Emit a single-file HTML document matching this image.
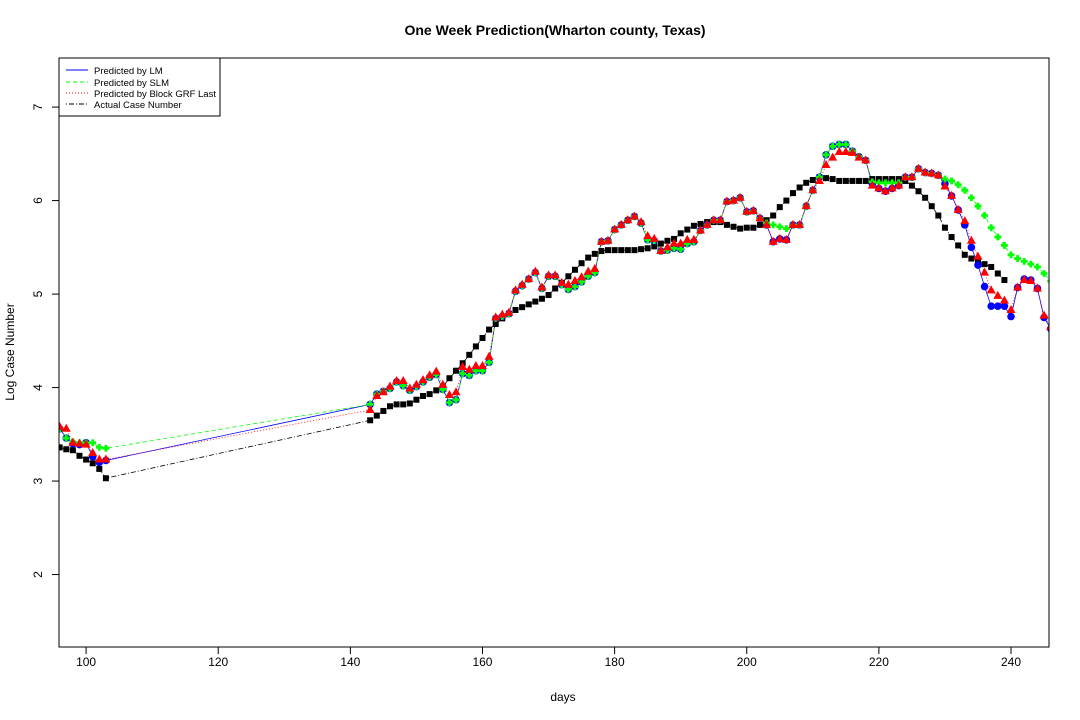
<!DOCTYPE html>
<html><head><meta charset="utf-8">
<style>
body{margin:0;background:#fff;}
svg{display:block;font-family:"Liberation Sans",Arial,sans-serif;}
</style></head>
<body>
<svg id="chart" width="1080" height="720" viewBox="0 0 1080 720">
<rect x="0" y="0" width="1080" height="720" fill="#fff"/>
<text x="555" y="35" text-anchor="middle" font-size="14" font-weight="bold">One Week Prediction(Wharton county, Texas)</text>
<g id="axes"></g>
<g id="series"></g>
<rect x="59" y="58" width="990" height="589" fill="none" stroke="#000" stroke-width="1"/>
<g>
<rect x="59" y="58" width="161" height="58" fill="#fff" stroke="#000" stroke-width="1"/>
<g><line x1="66" y1="70" x2="88" y2="70" stroke="#00f"/><text x="94" y="74" font-size="9.5">Predicted by LM</text></g>
<g><line x1="66" y1="82" x2="88" y2="82" stroke="#0f0" stroke-dasharray="4,3"/><text x="94" y="86" font-size="9.5">Predicted by SLM</text></g>
<g><line x1="66" y1="93" x2="88" y2="93" stroke="#f00" stroke-dasharray="1,2"/><text x="94" y="97" font-size="9.5">Predicted by Block GRF Last</text></g>
<g><line x1="66" y1="104" x2="88" y2="104" stroke="#000" stroke-dasharray="1,2,5,2"/><text x="94" y="108" font-size="9.5">Actual Case Number</text></g>
</g>
<text x="563" y="701" text-anchor="middle" font-size="12">days</text>
<text transform="translate(14,352) rotate(-90)" text-anchor="middle" font-size="12">Log Case Number</text>
</svg>
<script>
const xTicks = [100,120,140,160,180,200,220,240];
const yTicks = [2,3,4,5,6,7];
const daysEarly = [96,97,98,99,100,101,102,103];
const actualEarly = [3.36,3.34,3.33,3.27,3.23,3.19,3.13,3.03];
const lmEarly = [3.56,3.46,3.40,3.39,3.41,3.26,3.20,3.22];
const slmEarly = [3.56,3.46,3.42,3.41,3.41,3.41,3.36,3.35];
const grfEarly = [3.58,3.56,3.41,3.40,3.39,3.30,3.23,3.23];
const actualLate = [3.65,3.70,3.75,3.80,3.82,3.82,3.83,3.87,3.91,3.93,3.97,4.01,4.10,4.18,4.26,4.35,4.44,4.53,4.62,4.68,4.74,4.79,4.83,4.86,4.89,4.92,4.95,4.99,5.06,5.12,5.19,5.26,5.33,5.39,5.43,5.46,5.47,5.47,5.47,5.47,5.47,5.48,5.49,5.51,5.54,5.57,5.59,5.65,5.69,5.73,5.75,5.77,5.77,5.77,5.74,5.72,5.70,5.71,5.71,5.74,5.79,5.84,5.93,6.00,6.08,6.14,6.19,6.22,6.25,6.24,6.23,6.21,6.21,6.21,6.21,6.21,6.23,6.23,6.23,6.23,6.23,6.21,6.16,6.10,6.03,5.94,5.84,5.71,5.61,5.52,5.42,5.38,5.35,5.32,5.29,5.22,5.15];
const lmLate = [3.82,3.93,3.96,3.99,4.06,4.02,3.97,4.01,4.06,4.11,4.14,3.98,3.84,3.87,4.15,4.13,4.18,4.18,4.27,4.74,4.76,4.79,5.03,5.09,5.16,5.23,5.06,5.19,5.19,5.10,5.05,5.08,5.13,5.19,5.23,5.56,5.57,5.69,5.74,5.79,5.83,5.76,5.58,5.57,5.46,5.47,5.49,5.48,5.54,5.56,5.68,5.74,5.79,5.79,5.99,6.00,6.03,5.88,5.89,5.81,5.74,5.56,5.59,5.58,5.74,5.74,5.94,6.11,6.25,6.49,6.58,6.60,6.60,6.53,6.47,6.43,6.18,6.13,6.10,6.13,6.16,6.25,6.25,6.34,6.30,6.29,6.27,6.18,6.05,5.90,5.74,5.50,5.31,5.08,4.87,4.87,4.87,4.76,5.07,5.16,5.15,5.06,4.75,4.63];
const slmLate = [3.82,3.93,3.96,3.99,4.06,4.02,3.97,4.01,4.06,4.11,4.14,3.98,3.84,3.87,4.15,4.13,4.18,4.18,4.27,4.74,4.76,4.79,5.03,5.09,5.16,5.23,5.06,5.19,5.19,5.10,5.05,5.08,5.13,5.19,5.23,5.56,5.57,5.69,5.74,5.79,5.83,5.76,5.58,5.57,5.46,5.47,5.49,5.48,5.54,5.56,5.68,5.74,5.79,5.79,5.99,6.00,6.03,5.88,5.89,5.81,5.76,5.74,5.72,5.70,5.74,5.74,5.94,6.11,6.25,6.49,6.58,6.60,6.60,6.53,6.47,6.43,6.20,6.19,6.19,6.19,6.19,6.25,6.25,6.34,6.30,6.29,6.27,6.23,6.21,6.17,6.11,6.03,5.94,5.84,5.71,5.61,5.52,5.42,5.38,5.35,5.32,5.29,5.22,5.14];
const grfLate = [3.76,3.91,3.95,4.01,4.07,4.07,3.99,4.03,4.08,4.13,4.17,4.03,3.92,3.95,4.22,4.19,4.23,4.23,4.33,4.75,4.78,4.80,5.04,5.10,5.16,5.24,5.07,5.20,5.20,5.12,5.10,5.14,5.18,5.24,5.27,5.56,5.57,5.69,5.74,5.79,5.83,5.77,5.62,5.59,5.46,5.50,5.54,5.54,5.58,5.58,5.68,5.74,5.79,5.79,5.99,6.00,6.03,5.88,5.89,5.81,5.74,5.56,5.59,5.58,5.74,5.74,5.94,6.11,6.21,6.38,6.46,6.52,6.52,6.51,6.46,6.43,6.16,6.13,6.10,6.13,6.16,6.25,6.25,6.34,6.30,6.29,6.27,6.15,6.05,5.90,5.78,5.57,5.40,5.23,5.04,4.98,4.93,4.83,5.07,5.15,5.14,5.06,4.77,4.65];

const NS='http://www.w3.org/2000/svg';
const X0=59,X1=1049,Y0=58,Y1=647;
const xMin=95.9,xMax=245.75,yMin=1.225,yMax=7.525;
function sx(d){return X0+(d-xMin)/(xMax-xMin)*(X1-X0);}
function sy(v){return Y1-(v-yMin)/(yMax-yMin)*(Y1-Y0);}
function mk(tag,attrs,parent){const e=document.createElementNS(NS,tag);for(const k in attrs)e.setAttribute(k,attrs[k]);parent.appendChild(e);return e;}
const axes=document.getElementById('axes');
const series=document.getElementById('series');
const clip=mk('clipPath',{id:'pc'},axes);mk('rect',{x:X0,y:Y0,width:X1-X0,height:Y1-Y0},clip);
xTicks.forEach(t=>{
  const g=mk('g',{},axes);
  
  
  mk('line',{x1:sx(t),y1:Y1,x2:sx(t),y2:Y1+7,stroke:'#000'},g);
  const tx=mk('text',{x:sx(t),y:Y1+19,'text-anchor':'middle','font-size':'12'},g);tx.textContent=t;
});
yTicks.forEach(t=>{
  const g=mk('g',{},axes);
  
  
  mk('line',{x1:X0-7,y1:sy(t),x2:X0,y2:sy(t),stroke:'#000'},g);
  const tx=mk('text',{transform:`translate(${X0-17},${sy(t)}) rotate(-90)`,'text-anchor':'middle','font-size':'12'},g);tx.textContent=t;
});
const days=daysEarly.concat(Array.from({length:104},(_,i)=>143+i));
function build(early,late){return early.concat(late);}
const sets={
  actual:build(actualEarly,actualLate),
  lm:build(lmEarly,lmLate),
  slm:build(slmEarly,slmLate),
  grf:build(grfEarly,grfLate)
};
const gS=mk('g',{'clip-path':'url(#pc)'},series);
function line(vals,color,dash,name){
  const pts=[];vals.forEach((v,i)=>pts.push(sx(days[i]).toFixed(1)+','+sy(v).toFixed(1)));
  const p=mk('polyline',{points:pts.join(' '),fill:'none',stroke:color,'stroke-width':'0.8','stroke-dasharray':dash},gS);
  
  
}
line(sets.actual,'#000','1,2,5,2','actual-line');
line(sets.lm,'#00f','none','lm-line');
line(sets.slm,'#0f0','4,3','slm-line');
line(sets.grf,'#f00','1,2','grf-line');
sets.actual.forEach((v,i)=>{
  const r=mk('rect',{x:sx(days[i])-3,y:sy(v)-3,width:6,height:6,fill:'#000'},gS);
  
  
});
sets.lm.forEach((v,i)=>{
  const c=mk('circle',{cx:sx(days[i]),cy:sy(v),r:3.8,fill:'#00f'},gS);
  
  
});
sets.slm.forEach((v,i)=>{
  const x=sx(days[i]),y=sy(v);
  const c=mk('path',{d:`M${x-3},${y-1}h2v-2h2v2h2v2h-2v2h-2v-2h-2z`,fill:'#0f0',stroke:'#0f0','stroke-width':'0.8'},gS);
  
  
});
sets.grf.forEach((v,i)=>{
  const x=sx(days[i]),y=sy(v);
  const t=mk('polygon',{points:`${x},${y-5} ${x+4.5},${y+3} ${x-4.5},${y+3}`,fill:'#f00'},gS);
  
  
});
</script>
</body></html>
